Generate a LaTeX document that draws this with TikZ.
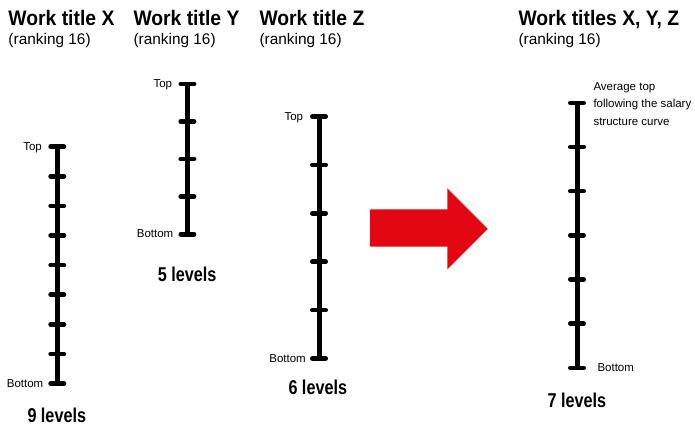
\documentclass[tikz,border=0pt]{standalone}
\usepackage{fontspec}
\setmainfont{Liberation Sans}
\newfontfamily\titlefont{Liberation Sans}[FakeStretch=0.92]
\newfontfamily\levelfont{Liberation Sans}[FakeStretch=0.81]
\definecolor{arrowred}{RGB}{227,6,19}

% one salary scale: x position, top y, bottom y, number of levels
\newcommand\salaryscale[4]{%
  \draw[scaleline] (#1,#2) -- (#1,#3);
  \pgfmathsetmacro\stepsize{(#3-#2)/(#4-1)}
  \foreach \k in {1,...,#4}{
    \draw[tickline] ({#1-6.7},{#2+(\k-1)*\stepsize}) -- ({#1+6.7},{#2+(\k-1)*\stepsize});
  }%
}

\begin{document}
\begin{tikzpicture}[x=1pt,y=-1pt,
  scaleline/.style={line width=5pt,line cap=butt},
  tickline/.style={line width=4.6pt,line cap=round},
  title/.style={anchor=base west,inner sep=0pt,font=\titlefont\bfseries\fontsize{21}{24}\selectfont},
  rank/.style={anchor=base west,inner sep=0pt,font=\fontsize{15.4}{18}\selectfont},
  levels/.style={anchor=base west,inner sep=0pt,font=\levelfont\bfseries\fontsize{20}{24}\selectfont},
  endlabel/.style={inner sep=0pt,font=\fontsize{11.5}{17.2}\selectfont}]
\useasboundingbox (0,0) rectangle (695,426);

% headings
\node[title] (tx) at (8.3,25) {Work title X};
\node[rank]  (rx) at (8.3,44) {(ranking 16)};
\node[title] (ty) at (133.3,25) {Work title Y};
\node[rank]  (ry) at (133.3,44) {(ranking 16)};
\node[title] (tz) at (259.3,25) {Work title Z};
\node[rank]  (rz) at (259.3,44) {(ranking 16)};
\node[title] (tall) at (518.3,25) {Work titles X, Y, Z};
\node[rank]  (rall) at (518.3,44) {(ranking 16)};

% scale X: 9 levels
\salaryscale{57.3}{146.7}{383.5}{9}
\node[endlabel,anchor=base east] (xtop) at (42,150.2) {Top};
\node[endlabel,anchor=base east] (xbot) at (43.5,387.2) {Bottom};
\node[levels] (xlev) at (27.3,422.5) {9 levels};

% scale Y: 5 levels
\salaryscale{187.4}{83.8}{234.2}{5}
\node[endlabel,anchor=base east] (ytop) at (172.3,87.3) {Top};
\node[endlabel,anchor=base east] (ybot) at (173.5,237.8) {Bottom};
\node[levels] (ylev) at (157.7,281.5) {5 levels};

% scale Z: 6 levels
\salaryscale{319}{116.5}{358.5}{6}
\node[endlabel,anchor=base east] (ztop) at (303.3,120) {Top};
\node[endlabel,anchor=base east] (zbot) at (306,362) {Bottom};
\node[levels] (zlev) at (288.3,394) {6 levels};

% combined scale: 7 levels (base anchor sits on the last text line)
\salaryscale{577}{102.8}{367.8}{7}
\node[endlabel,anchor=base west,align=left] (atop) at (593.3,125)
  {Average top\\following the salary\\structure curve};
\node[endlabel,anchor=base west] (abot) at (597.3,371.6) {Bottom};
\node[levels] (alev) at (547.3,407) {7 levels};

% red block arrow
\fill[arrowred] (370,209.3) -- (447.3,209.3) -- (447.3,188.3) -- (487.7,228.8)
  -- (447.3,269.3) -- (447.3,246.7) -- (370,246.7) -- cycle;
\end{tikzpicture}
\end{document}
